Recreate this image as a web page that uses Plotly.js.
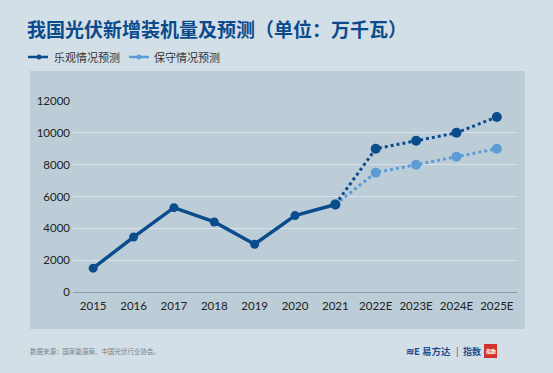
<!DOCTYPE html>
<html><head><meta charset="utf-8">
<script src="https://cdn.plot.ly/plotly-3.0.1.min.js"></script>
<style>html,body{margin:0;padding:0;background:#d3dfe7;}#c{width:553px;height:373px;}</style>
</head><body><div id="c"></div>
<script>
const categories = ['2015','2016','2017','2018','2019','2020','2021','2022E','2023E','2024E','2025E'];
const historyYears = ['2015','2016','2017','2018','2019','2020','2021'];
const historyValues = [1500, 3450, 5300, 4400, 3000, 4800, 5500];
const forecastYears = ['2021','2022E','2023E','2024E','2025E'];
const optimistic = [5500, 9000, 9500, 10000, 11000];
const conservative = [5500, 7500, 8000, 8500, 9000];
const yTicks = [0, 2000, 4000, 6000, 8000, 10000, 12000];

const DARK = '#0b4c8c', LIGHT = '#5c9bd3';
const CJK = '"Noto Sans CJK SC", sans-serif';

// plot area in px
const L = 73, R = 517, T = 101, B = 292, W = 553, H = 373;
const px = x => (x - L) / (R - L);
const py = y => (B - y) / (B - T);

const traces = [
  {x: forecastYears, y: conservative, type: 'scatter', mode: 'lines+markers',
   line: {color: LIGHT, width: 3, dash: 'dot'}, marker: {color: LIGHT, size: 10}},
  {x: forecastYears, y: optimistic, type: 'scatter', mode: 'lines+markers',
   line: {color: DARK, width: 3, dash: 'dot'}, marker: {color: DARK, size: 10}},
  {x: historyYears, y: historyValues, type: 'scatter', mode: 'lines+markers',
   line: {color: DARK, width: 3.5}, marker: {color: DARK, size: 9}}
];

const shapes = [
  {type: 'rect', xref: 'paper', yref: 'paper', layer: 'below',
   x0: px(30), x1: px(525), y0: py(329), y1: py(71),
   fillcolor: '#bccdd8', line: {width: 0}},
  // legend
  {type: 'line', xref: 'paper', yref: 'paper', x0: px(28), x1: px(48), y0: py(57), y1: py(57), line: {color: DARK, width: 2.5}},
  {type: 'circle', xref: 'paper', yref: 'paper', x0: px(36.5), x1: px(41.5), y0: py(59.5), y1: py(54.5), fillcolor: DARK, line: {width: 0}},
  {type: 'line', xref: 'paper', yref: 'paper', x0: px(129), x1: px(149), y0: py(57), y1: py(57), line: {color: LIGHT, width: 2.5}},
  {type: 'circle', xref: 'paper', yref: 'paper', x0: px(136.5), x1: px(141.5), y0: py(59.5), y1: py(54.5), fillcolor: LIGHT, line: {width: 0}},
  // seal
  {type: 'rect', xref: 'paper', yref: 'paper', x0: px(484), x1: px(497), y0: py(358), y1: py(344), fillcolor: '#d2322d', line: {width: 0}}
];

const annotations = [
  {text: '乐观情况预测', xref: 'paper', yref: 'paper', x: px(52), y: py(57), xanchor: 'left', yanchor: 'middle', showarrow: false, font: {family: CJK, size: 11, color: '#333'}},
  {text: '保守情况预测', xref: 'paper', yref: 'paper', x: px(152), y: py(57), xanchor: 'left', yanchor: 'middle', showarrow: false, font: {family: CJK, size: 11, color: '#333'}},
  {text: '数据来源：国家能源局、中国光伏行业协会。', xref: 'paper', yref: 'paper', x: px(28), y: py(351), xanchor: 'left', yanchor: 'middle', showarrow: false, font: {family: CJK, size: 6.5, color: '#7a7f84'}},
  {text: '<b>≋E 易方达</b>', xref: 'paper', yref: 'paper', x: px(453), y: py(351), xanchor: 'right', yanchor: 'middle', showarrow: false, font: {family: CJK, size: 9.5, color: '#1e4e8f'}},
  {text: '|', xref: 'paper', yref: 'paper', x: px(457), y: py(351), xanchor: 'center', yanchor: 'middle', showarrow: false, font: {family: CJK, size: 9, color: '#1e4e8f'}},
  {text: '<b>指数</b>', xref: 'paper', yref: 'paper', x: px(461), y: py(351), xanchor: 'left', yanchor: 'middle', showarrow: false, font: {family: CJK, size: 9, color: '#1e4e8f'}},
  {text: '<b>指数</b>', xref: 'paper', yref: 'paper', x: px(490.5), y: py(351), xanchor: 'center', yanchor: 'middle', showarrow: false, font: {family: CJK, size: 5, color: '#fff'}}
];

const layout = {
  width: W, height: H,
  margin: {l: L, r: W - R, t: T, b: H - B, pad: 0},
  paper_bgcolor: '#d3dfe7', plot_bgcolor: 'rgba(0,0,0,0)',
  showlegend: false,
  title: {text: '<b>我国光伏新增装机量及预测（单位：万千瓦）</b>', xref: 'container', yref: 'container',
    x: 27 / W, xanchor: 'left', y: 1 - 30 / H, yanchor: 'middle',
    font: {family: CJK, size: 19, color: '#0b4a8b'}},
  xaxis: {type: 'category', categoryorder: 'array', categoryarray: categories,
    range: [-0.5, categories.length - 0.5], showgrid: false, zeroline: false,
    showline: true, linecolor: '#8e9ca7', linewidth: 1, ticks: '',
    ticklabelstandoff: 3,
    tickfont: {family: 'Lato, "Open Sans", sans-serif', size: 11.5, color: '#222'}, fixedrange: true},
  yaxis: {range: [0, 12000], tickvals: yTicks, ticktext: yTicks.map(String),
    showgrid: true, gridcolor: '#d8e3eb', gridwidth: 1.3, zeroline: false, showline: false, ticks: '',
    ticklabelstandoff: 2,
    tickfont: {family: 'Lato, "Open Sans", sans-serif', size: 11.5, color: '#222'}, fixedrange: true},
  shapes: shapes, annotations: annotations
};

Plotly.newPlot('c', traces, layout, {displayModeBar: false, staticPlot: true});
</script></body></html>
